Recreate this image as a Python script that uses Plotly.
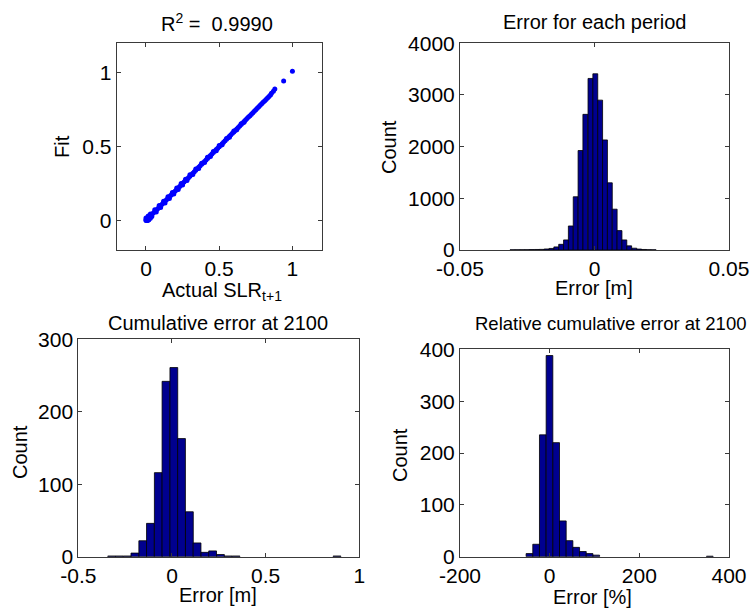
import plotly.graph_objects as go

# ---------------- data ----------------
# Scatter: actual SLR(t+1) vs fitted value
actual_slr = [0.00, 0.01, 0.02, 0.03, 0.04, 0.05, 0.06, 0.07, 0.08, 0.09, 0.10, 0.11, 0.12, 0.13,
              0.14, 0.15, 0.16, 0.17, 0.18, 0.19, 0.20, 0.21, 0.22, 0.23, 0.24, 0.25, 0.26, 0.27,
              0.28, 0.29, 0.30, 0.31, 0.32, 0.33, 0.34, 0.35, 0.36, 0.37, 0.38, 0.39, 0.40, 0.41,
              0.42, 0.43, 0.44, 0.45, 0.46, 0.47, 0.48, 0.49, 0.50, 0.51, 0.52, 0.53, 0.54, 0.55,
              0.56, 0.57, 0.58, 0.59, 0.60, 0.61, 0.62, 0.63, 0.64, 0.65, 0.66, 0.67, 0.68, 0.69,
              0.70, 0.71, 0.72, 0.73, 0.74, 0.75, 0.76, 0.77, 0.78, 0.79, 0.80, 0.81, 0.82, 0.83,
              0.84, 0.85, 0.857,
              0.00, 0.03, 0.06, 0.09, 0.12, 0.15, 0.18, 0.21, 0.24, 0.27, 0.30, 0.34, 0.38, 0.42,
              0.46, 0.50, 0.55, 0.60, 0.65,
              0.01, 0.04, 0.07, 0.10, 0.13, 0.16, 0.19, 0.22, 0.25, 0.28, 0.32, 0.36, 0.40, 0.44,
              0.48, 0.52, 0.57, 0.62, 0.67,
              0.005, 0.01, 0.02, 0.015, 0.0, 0.03,
              0.87, 0.88, 0.94, 1.00]
fit_slr = [0.00, 0.01, 0.02, 0.03, 0.04, 0.05, 0.06, 0.07, 0.08, 0.09, 0.10, 0.11, 0.12, 0.13,
           0.14, 0.15, 0.16, 0.17, 0.18, 0.19, 0.20, 0.21, 0.22, 0.23, 0.24, 0.25, 0.26, 0.27,
           0.28, 0.29, 0.30, 0.31, 0.32, 0.33, 0.34, 0.35, 0.36, 0.37, 0.38, 0.39, 0.40, 0.41,
           0.42, 0.43, 0.44, 0.45, 0.46, 0.47, 0.48, 0.49, 0.50, 0.51, 0.52, 0.53, 0.54, 0.55,
           0.56, 0.57, 0.58, 0.59, 0.60, 0.61, 0.62, 0.63, 0.64, 0.65, 0.66, 0.67, 0.68, 0.69,
           0.70, 0.71, 0.72, 0.73, 0.74, 0.75, 0.76, 0.77, 0.78, 0.79, 0.80, 0.81, 0.82, 0.83,
           0.84, 0.85, 0.861,
           0.016, 0.044, 0.073, 0.102, 0.131, 0.161, 0.190, 0.220, 0.250, 0.279, 0.309, 0.348, 0.388, 0.428,
           0.467, 0.507, 0.556, 0.606, 0.655,
           0.000, 0.027, 0.058, 0.088, 0.119, 0.149, 0.180, 0.210, 0.241, 0.271, 0.311, 0.352, 0.392, 0.433,
           0.473, 0.513, 0.564, 0.615, 0.666,
           0.01, 0.0, 0.005, 0.03, 0.005, 0.015,
           0.875, 0.89, 0.945, 1.01]

# Error for each period (histogram bins)
period_err_centers = [-0.0305, -0.0287, -0.0269, -0.0251, -0.0233, -0.0214, -0.0196, -0.0178,
                      -0.0160, -0.0142, -0.0124, -0.0106, -0.0088, -0.0070, -0.0052, -0.0034,
                      -0.0015, 0.0003, 0.0021, 0.0039, 0.0057, 0.0075, 0.0093, 0.0111,
                      0.0129, 0.0148, 0.0166, 0.0184, 0.0202, 0.0220]
period_err_counts = [3, 4, 5, 6, 8, 10, 12, 20, 30, 60, 110, 195, 465, 1030, 1925, 2625,
                     3320, 3410, 2900, 2130, 1300, 790, 375, 195, 80, 35, 18, 10, 6, 3]
period_bin_width = 0.00181

# Cumulative error at 2100
cum_err_centers = [-0.322, -0.281, -0.239, -0.198, -0.156, -0.115, -0.073, -0.032, 0.010,
                   0.051, 0.093, 0.134, 0.176, 0.217, 0.259, 0.300, 0.342, 0.881]
cum_err_counts = [1, 1, 1, 5, 22, 46, 116, 242, 261, 163, 62, 19, 6, 8, 3, 1, 1, 1]
cum_bin_width = 0.0415

# Relative cumulative error at 2100 (%)
rel_err_centers = [-45.1, -30.2, -15.3, -0.4, 14.5, 29.4, 44.3, 59.2, 74.1, 89.0, 103.9, 357.2]
rel_err_counts = [6, 24, 235, 388, 220, 69, 31, 18, 10, 6, 3, 1]
rel_bin_width = 14.9

# Tick labels
tl_scatter_vals = [0, 0.5, 1]
tl_scatter_text = ["0", "0.5", "1"]
tl_period_x_vals = [-0.05, 0, 0.05]
tl_period_x_text = ["-0.05", "0", "0.05"]
tl_period_y_vals = [0, 1000, 2000, 3000, 4000]
tl_cum_x_vals = [-0.5, 0, 0.5, 1]
tl_cum_x_text = ["-0.5", "0", "0.5", "1"]
tl_cum_y_vals = [0, 100, 200, 300]
tl_rel_x_vals = [-200, 0, 200, 400]
tl_rel_x_text = ["-200", "0", "200", "400"]
tl_rel_y_vals = [0, 100, 200, 300, 400]

# ---------------- layout helpers ----------------
W, H = 751, 613
FONT = "Liberation Sans, Arial, Helvetica, sans-serif"
BAR_COLOR = "#00008f"


def px_x(p):
    return p / W


def px_y(p):
    return 1 - p / H


axis_common = dict(showline=True, linecolor="#3a3a3a", linewidth=1, mirror="ticks",
                   ticks="inside", ticklen=4, tickcolor="#3a3a3a", showgrid=False,
                   zeroline=False, automargin=False,
                   tickfont=dict(size=21, color="black", family=FONT))

fig = go.Figure()
fig.add_trace(go.Scatter(x=actual_slr, y=fit_slr, mode="markers",
                         marker=dict(color="#0000ff", size=5, line=dict(width=0)),
                         xaxis="x", yaxis="y", showlegend=False))
bar_marker = dict(color=BAR_COLOR, line=dict(color="black", width=0.8))
fig.add_trace(go.Bar(x=period_err_centers, y=period_err_counts, width=period_bin_width,
                     marker=bar_marker, xaxis="x2", yaxis="y2", showlegend=False))
fig.add_trace(go.Bar(x=cum_err_centers, y=cum_err_counts, width=cum_bin_width,
                     marker=bar_marker, xaxis="x3", yaxis="y3", showlegend=False))
fig.add_trace(go.Bar(x=rel_err_centers, y=rel_err_counts, width=rel_bin_width,
                     marker=bar_marker, xaxis="x4", yaxis="y4", showlegend=False))

fig.update_layout(
    width=W, height=H,
    margin=dict(l=0, r=0, t=0, b=0, autoexpand=False),
    paper_bgcolor="white", plot_bgcolor="white",
    font=dict(family=FONT, color="black", size=20),
    xaxis=dict(axis_common, domain=[px_x(116.7), px_x(321.7)], range=[-0.2, 1.2],
               tickvals=tl_scatter_vals, ticktext=tl_scatter_text, anchor="y"),
    yaxis=dict(axis_common, domain=[px_y(250), px_y(43.3)], range=[-0.2, 1.2],
               tickvals=tl_scatter_vals, ticktext=tl_scatter_text, anchor="x"),
    xaxis2=dict(axis_common, domain=[px_x(460), px_x(729)], range=[-0.05, 0.05],
                tickvals=tl_period_x_vals, ticktext=tl_period_x_text, anchor="y2"),
    yaxis2=dict(axis_common, domain=[px_y(250), px_y(43.3)], range=[0, 4000],
                tickvals=tl_period_y_vals, anchor="x2"),
    xaxis3=dict(axis_common, domain=[px_x(78.3), px_x(359.3)], range=[-0.5, 1],
                tickvals=tl_cum_x_vals, ticktext=tl_cum_x_text, anchor="y3"),
    yaxis3=dict(axis_common, domain=[px_y(556.7), px_y(339.3)], range=[0, 300],
                tickvals=tl_cum_y_vals, anchor="x3"),
    xaxis4=dict(axis_common, domain=[px_x(460), px_x(729)], range=[-200, 400],
                tickvals=tl_rel_x_vals, ticktext=tl_rel_x_text, anchor="y4"),
    yaxis4=dict(axis_common, domain=[px_y(556.7), px_y(349.3)], range=[0, 400],
                tickvals=tl_rel_y_vals, anchor="x4"),
)


def label(text, x, y, angle=0, size=20):
    fig.add_annotation(text=text, x=px_x(x), y=px_y(y), xref="paper", yref="paper",
                       xanchor="center", yanchor="middle", showarrow=False,
                       textangle=angle, font=dict(size=size, family=FONT, color="black"))


# titles
label("R<sup>2</sup> =  0.9990", 217, 22)
label("Error for each period", 594, 22)
label("Cumulative error at 2100", 218, 323)
label("Relative cumulative error at 2100", 610, 323, size=18.5)
# x labels
label("Actual SLR<sub>t+1</sub>", 222, 292)
label("Error [m]", 594, 288)
label("Error [m]", 218, 595)
label("Error [%]", 592, 597)
# y labels
label("Fit", 62, 147, angle=-90)
label("Count", 389, 147, angle=-90)
label("Count", 20, 452, angle=-90)
label("Count", 400, 455, angle=-90)

# remove the browser's default 8px page margin so the figure fills the window exactly
fig.write_html("out.html",
               config={"displayModeBar": False},
               post_script="document.body.style.margin='0';document.body.style.overflow='hidden';")
